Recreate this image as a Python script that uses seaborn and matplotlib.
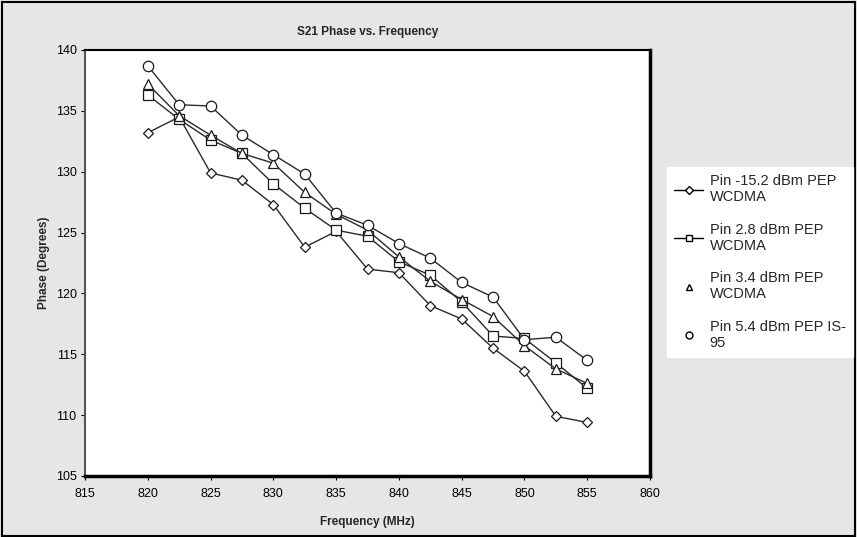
import pandas as pd
import matplotlib
matplotlib.use('Agg')
import matplotlib.pyplot as plt
from matplotlib.lines import Line2D
from matplotlib.patches import Rectangle
import seaborn as sns

# Data
freq = [820, 822.5, 825, 827.5, 830, 832.5, 835, 837.5, 840, 842.5, 845, 847.5, 850, 852.5, 855]
pin_m15_2 = [133.2, 134.5, 129.9, 129.3, 127.3, 123.8, 125.1, 122.0, 121.7, 119.0, 117.9, 115.5, 113.6, 109.9, 109.4]
pin_2_8 = [136.3, 134.3, 132.6, 131.5, 129.0, 127.0, 125.2, 124.7, 122.6, 121.5, 119.3, 116.5, 116.3, 114.3, 112.2]
pin_3_4 = [137.2, 134.6, 133.0, 131.5, 130.7, 128.3, 126.5, 125.2, 123.0, 121.0, 119.5, 118.1, 115.7, 113.8, 112.6]
pin_5_4 = [138.7, 135.5, 135.4, 133.0, 131.4, 129.8, 126.6, 125.6, 124.1, 122.9, 120.9, 119.7, 116.2, 116.4, 114.5]

labels = ['Pin -15.2 dBm PEP\nWCDMA', 'Pin 2.8 dBm PEP\nWCDMA',
          'Pin 3.4 dBm PEP\nWCDMA', 'Pin 5.4 dBm PEP IS-\n95']
series = [pin_m15_2, pin_2_8, pin_3_4, pin_5_4]
markers = ['D', 's', '^', 'o']
msizes = [5, 6.5, 7, 7.5]

sns.set_theme(style='white')
plt.rcParams['font.family'] = ['Liberation Sans', 'DejaVu Sans']

bg = '#e6e6e6'
fig = plt.figure(figsize=(8.57, 5.37), dpi=100, facecolor=bg)
ax = fig.add_axes([0.0992, 0.1136, 0.6593, 0.7933])
ax.set_facecolor('white')

for vals, m, ms in zip(series, markers, msizes):
    df = pd.DataFrame({'Frequency': freq, 'Phase': vals})
    sns.lineplot(data=df, x='Frequency', y='Phase', ax=ax, color='#2a2a2a',
                 linewidth=1.0, marker=m, markersize=ms, markerfacecolor='white',
                 markeredgecolor='#1a1a1a', markeredgewidth=0.9)

ax.set_xlim(815, 860)
ax.set_ylim(105, 140)
ax.set_xticks(range(815, 861, 5))
ax.set_yticks(range(105, 141, 5))
ax.tick_params(axis='both', labelsize=9, length=3, width=0.8, direction='out',
               colors='black', bottom=True, left=True, pad=3)
ax.tick_params(axis='x', pad=6)

for side, lw in [('top', 1.5), ('left', 1.5), ('bottom', 2.5), ('right', 2.5)]:
    ax.spines[side].set_color('black')
    ax.spines[side].set_linewidth(lw)
ax.spines['left'].set_color('#555555')

ax.set_title('S21 Phase vs. Frequency', fontsize=8.5, fontweight='bold', pad=11)
ax.set_xlabel('Frequency (MHz)', fontsize=8.5, fontweight='bold', labelpad=11)
ax.set_ylabel('Phase (Degrees)', fontsize=8.5, fontweight='bold', labelpad=4)

handles = [
    Line2D([], [], color='black', lw=1, marker='D', ms=4.5, mfc='white', mec='black'),
    Line2D([], [], color='black', lw=1, marker='s', ms=5, mfc='white', mec='black'),
    Line2D([], [], color='black', lw=0, marker='^', ms=5, mfc='white', mec='black'),
    Line2D([], [], color='black', lw=0, marker='o', ms=5, mfc='white', mec='black'),
]
leg = fig.legend(handles, labels, loc='upper left', bbox_to_anchor=(0.778, 0.689),
                 fontsize=10.5, frameon=True, fancybox=False, framealpha=1,
                 edgecolor='white', facecolor='white', handlelength=2.0,
                 labelspacing=1.25, borderpad=0.5, handletextpad=0.45,
                 borderaxespad=0)

fig.patches.append(Rectangle((0.002, 0.002), 0.996, 0.994, transform=fig.transFigure,
                             fill=False, edgecolor='black', linewidth=1.5))

fig.savefig('out.png', dpi=100, facecolor=bg)
